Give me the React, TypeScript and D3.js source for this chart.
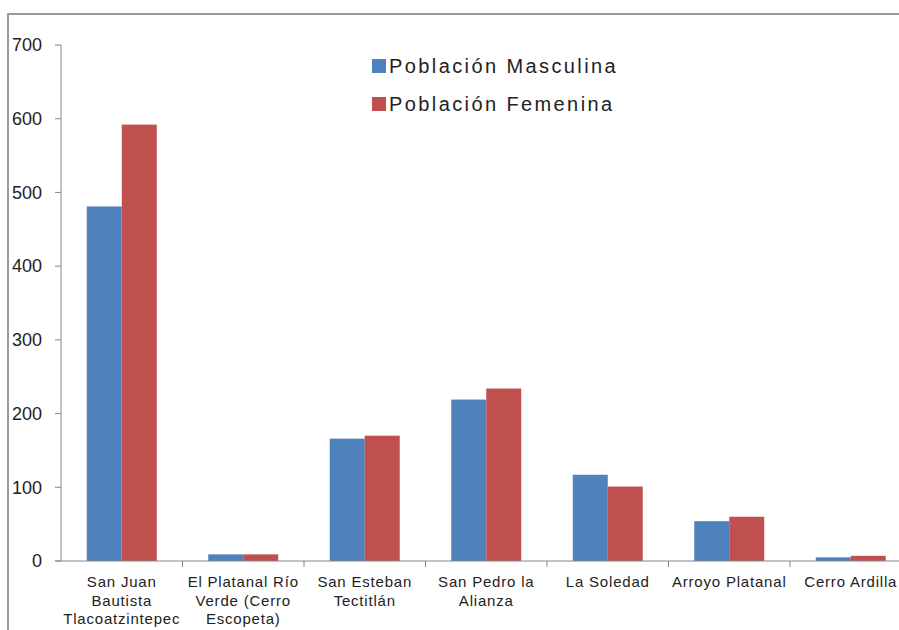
import * as d3 from 'd3';
import { useEffect, useRef } from 'react';

const categories = [
  ['San Juan', 'Bautista', 'Tlacoatzintepec'],
  ['El Platanal Río', 'Verde (Cerro', 'Escopeta)'],
  ['San Esteban', 'Tectitlán'],
  ['San Pedro la', 'Alianza'],
  ['La Soledad'],
  ['Arroyo Platanal'],
  ['Cerro Ardilla'],
];
const masculina = [481, 9, 166, 219, 117, 54, 5];
const femenina = [592, 9, 170, 234, 101, 60, 7];
const seriesNames = ['Población Masculina', 'Población Femenina'];
const colors = ['#4F81BD', '#C0504D'];
const yTicks = [0, 100, 200, 300, 400, 500, 600, 700];

export default function App() {
  const ref = useRef<SVGSVGElement>(null);

  useEffect(() => {
    const svg = d3.select(ref.current);
    svg.selectAll('*').remove();

    const left = 61;
    const top = 45;
    const bottom = 561;
    const right = 911.5;
    const font = 'Arial, "Liberation Sans", sans-serif';

    // outer frame
    svg.append('path')
      .attr('d', 'M8,630 L8,14 L899,14')
      .attr('fill', 'none')
      .attr('stroke', '#9a9a9a')
      .attr('stroke-width', 2);

    const keys = categories.map((_, i) => String(i));
    const x = d3.scaleBand().domain(keys).range([left, right]).padding(0);
    const xs = d3.scaleBand().domain(['m', 'f']).range([0, x.bandwidth()])
      .paddingInner(0).paddingOuter(0.736);
    const y = d3.scaleLinear().domain([0, 700]).range([bottom, top]);

    // bars
    const rows = keys.map((k, i) => ({ k, m: masculina[i], f: femenina[i] }));
    const g = svg.append('g');
    rows.forEach(d => {
      (['m', 'f'] as const).forEach((s, si) => {
        g.append('rect')
          .attr('x', x(d.k)! + xs(s)!)
          .attr('y', y(d[s]))
          .attr('width', xs.bandwidth())
          .attr('height', y(0) - y(d[s]))
          .attr('fill', colors[si]);
      });
    });

    const axisColor = '#868686';
    // y axis
    svg.append('line')
      .attr('x1', left).attr('x2', left).attr('y1', top).attr('y2', bottom)
      .attr('stroke', axisColor).attr('stroke-width', 1);
    yTicks.forEach(t => {
      svg.append('line')
        .attr('x1', left - 6).attr('x2', left).attr('y1', y(t)).attr('y2', y(t))
        .attr('stroke', axisColor);
      svg.append('text')
        .attr('x', 42).attr('y', y(t)).attr('dy', '0.35em')
        .attr('text-anchor', 'end')
        .attr('font-family', font).attr('font-size', 18)
        .attr('fill', '#222')
        .text(t);
    });

    // x axis
    svg.append('line')
      .attr('x1', left - 6).attr('x2', 899).attr('y1', bottom).attr('y2', bottom)
      .attr('stroke', axisColor);
    keys.forEach((k, i) => {
      if (i > 0) {
        svg.append('line')
          .attr('x1', x(k)!).attr('x2', x(k)!).attr('y1', bottom).attr('y2', bottom + 6)
          .attr('stroke', axisColor);
      }
      const t = svg.append('text')
        .attr('text-anchor', 'middle')
        .attr('font-family', font).attr('font-size', 15)
        .attr('letter-spacing', 0.8)
        .attr('fill', '#222');
      categories[i].forEach((line, li) => {
        t.append('tspan')
          .attr('x', x(k)! + x.bandwidth() / 2)
          .attr('y', 587 + li * 18.5)
          .text(line);
      });
    });

    // legend
    seriesNames.forEach((name, i) => {
      const ly = 66 + i * 38;
      svg.append('rect')
        .attr('x', 372).attr('y', ly - 7).attr('width', 14).attr('height', 14)
        .attr('fill', colors[i]);
      svg.append('text')
        .attr('x', 389).attr('y', ly).attr('dy', '0.35em')
        .attr('font-family', font).attr('font-size', 20)
        .attr('letter-spacing', 2.4)
        .attr('fill', '#222')
        .text(name);
    });
  }, []);

  return (
    <svg ref={ref} width={899} height={630}
      style={{ position: 'absolute', left: 0, top: 0, background: '#fff' }} />
  );
}
